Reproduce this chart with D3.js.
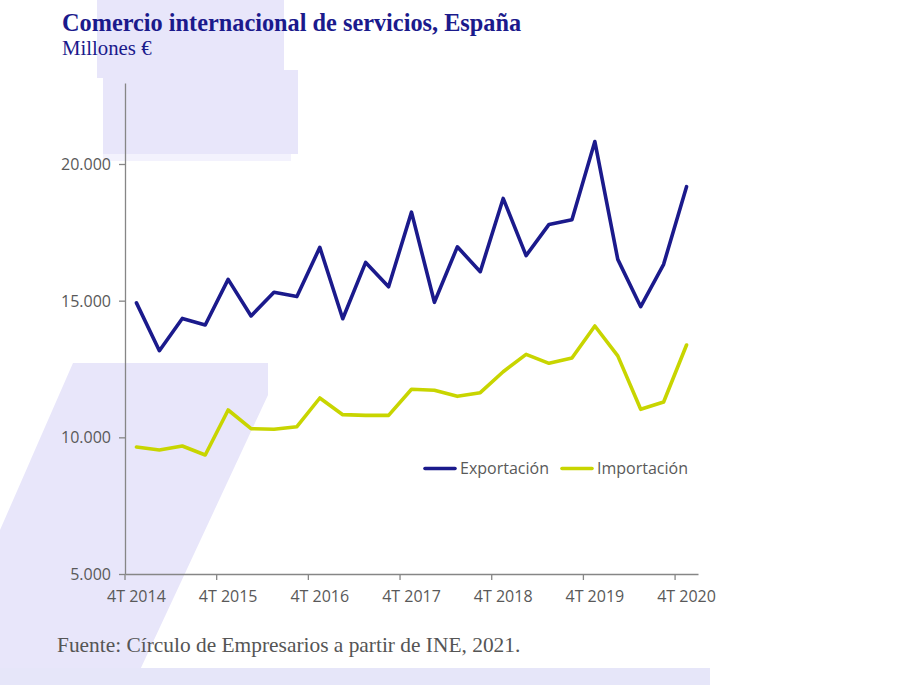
<!DOCTYPE html>
<html><head><meta charset="utf-8">
<script src="https://cdn.jsdelivr.net/npm/d3@7"></script>
<style>
html,body{margin:0;padding:0;background:#fff;}
svg{display:block;}
</style></head>
<body>
<svg id="chart" width="911" height="685"></svg>
<script>
const categories = ["4T 2014","1T 2015","2T 2015","3T 2015","4T 2015","1T 2016","2T 2016","3T 2016","4T 2016","1T 2017","2T 2017","3T 2017","4T 2017","1T 2018","2T 2018","3T 2018","4T 2018","1T 2019","2T 2019","3T 2019","4T 2019","1T 2020","2T 2020","3T 2020","4T 2020"];
const exportacion = [14920,13170,14350,14110,15780,14440,15310,15150,16950,14340,16400,15510,18240,14940,16970,16060,18740,16650,17790,17960,20820,16510,14780,16330,19170];
const importacion = [9646,9537,9683,9354,11000,10317,10293,10390,11439,10829,10805,10805,11757,11720,11500,11633,12401,13037,12708,12902,14073,12980,11025,11293,13378];
const yTicks = [5000,10000,15000,20000];
const xTickLabels = ["4T 2014","4T 2015","4T 2016","4T 2017","4T 2018","4T 2019","4T 2020"];
const seriesNames = ["Exportación","Importación"];
const seriesColors = ["#1b1a8c","#c8d500"];

(function(){
const svg = d3.select("#chart");

// decorative background shapes
const bg = svg.append("g");
bg.append("rect").attr("x",97).attr("y",0).attr("width",187).attr("height",78).attr("fill","#e8e6fa");
bg.append("rect").attr("x",103).attr("y",70).attr("width",195).attr("height",84).attr("fill","#e8e6fa");
bg.append("rect").attr("x",103).attr("y",154).attr("width",188).attr("height",7).attr("fill","#f3f2fd");
bg.append("polygon").attr("points","73,363 268,363 268,395 133,685 0,685 0,530").attr("fill","#e8e6fa");
bg.append("rect").attr("x",0).attr("y",668).attr("width",710).attr("height",17).attr("fill","#e6e6f9");

const pLeft = 125, pRight = 698, pBottom = 574, pTop = 83;
const x = d3.scaleBand().domain(categories).range([pLeft,pRight]);
const y = d3.scaleLinear().domain([5000, 5000 + (pBottom-pTop)/(410/15000)]).range([pBottom,pTop]);

const fmt = d => d3.format(",")(d).replace(/,/g,".");
const tickFont = "'Open Sans', sans-serif";

// y axis
const yAxis = svg.append("g").attr("transform",`translate(${pLeft},0)`)
  .call(d3.axisLeft(y).tickValues(yTicks).tickFormat(fmt).tickSize(6).tickSizeOuter(0));
yAxis.select(".domain").attr("stroke","#868686").attr("stroke-width",1.3);
yAxis.selectAll(".tick line").attr("stroke","#868686").attr("stroke-width",1.3);
yAxis.selectAll(".tick text").attr("fill","#595959").attr("font-family",tickFont).attr("font-size",16).attr("x",-14).attr("dy","0.34em");

// x axis
const xAxis = svg.append("g").attr("transform",`translate(0,${pBottom})`)
  .call(d3.axisBottom(x).tickValues(xTickLabels).tickSize(0).tickSizeOuter(0));
xAxis.select(".domain").attr("stroke","#868686").attr("stroke-width",1.3);
xAxis.selectAll(".tick text").attr("fill","#595959").attr("font-family",tickFont).attr("font-size",16).attr("y",17).attr("dy","0.71em");
// tick marks at category boundaries
svg.append("g").selectAll("line").data(xTickLabels).join("line")
  .attr("x1",d=>x(d)).attr("x2",d=>x(d)).attr("y1",pBottom).attr("y2",pBottom+6)
  .attr("stroke","#868686").attr("stroke-width",1.3);

// lines
const line = d3.line().x((d,i)=>x(categories[i])+x.bandwidth()/2).y(d=>y(d));
[exportacion, importacion].forEach((s,k)=>{
  svg.append("path").datum(s).attr("d",line).attr("fill","none")
    .attr("stroke",seriesColors[k]).attr("stroke-width",3.6).attr("stroke-linejoin","round").attr("stroke-linecap","round");
});

// legend
const lg = svg.append("g");
const legendPos = [{lx:425, tx:460},{lx:562, tx:597}];
seriesNames.forEach((n,k)=>{
  lg.append("line").attr("x1",legendPos[k].lx).attr("x2",legendPos[k].lx+30).attr("y1",468.5).attr("y2",468.5)
    .attr("stroke",seriesColors[k]).attr("stroke-width",3.6).attr("stroke-linecap","round");
  lg.append("text").attr("x",legendPos[k].tx).attr("y",474).text(n)
    .attr("font-family",tickFont).attr("font-size",16).attr("fill","#595959");
});

// titles
svg.append("text").attr("x",62).attr("y",31).text("Comercio internacional de servicios, España")
  .attr("font-family","'Liberation Serif', 'Times New Roman', serif").attr("font-weight","bold").attr("font-size",24.3).attr("fill","#1b1a8c");
svg.append("text").attr("x",62).attr("y",55).text("Millones €")
  .attr("font-family","'Liberation Serif', 'Times New Roman', serif").attr("font-size",20.8).attr("fill","#1b1a8c");
svg.append("text").attr("x",57).attr("y",652).text("Fuente: Círculo de Empresarios a partir de INE, 2021.")
  .attr("font-family","'Liberation Serif', 'Times New Roman', serif").attr("font-size",21.4).attr("fill","#555555");
})();
</script>
</body></html>
